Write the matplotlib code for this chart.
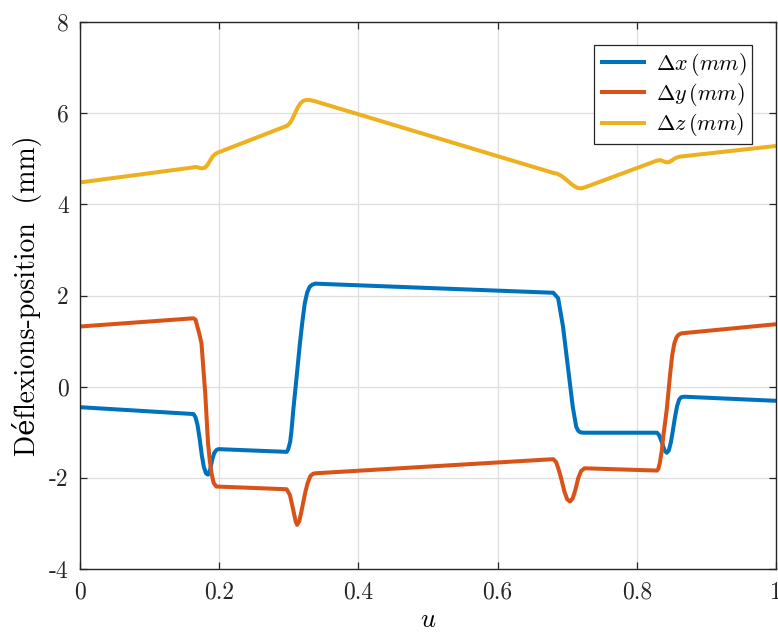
import matplotlib
matplotlib.use("Agg")
import matplotlib.pyplot as plt

# deflections, one set of knots per series
u_x = [0.000, 0.163, 0.166, 0.169, 0.172, 0.175, 0.178, 0.181, 0.184, 0.187, 0.190, 0.193, 0.196, 0.199,
       0.297, 0.299, 0.302, 0.304, 0.3065, 0.3113, 0.316, 0.3195, 0.323, 0.3265, 0.330, 0.334, 0.338,
       0.680, 0.687, 0.694, 0.701, 0.708, 0.713, 0.716, 0.719, 0.723,
       0.829, 0.832, 0.836, 0.840, 0.843, 0.846, 0.849, 0.852, 0.855, 0.858, 0.861, 0.864, 0.868, 1.000]
dx = [-0.45, -0.60, -0.67, -0.85, -1.15, -1.50, -1.76, -1.90, -1.93, -1.82, -1.60, -1.45, -1.39, -1.37,
      -1.43, -1.38, -1.21, -0.95, -0.51, 0.22, 0.95, 1.42, 1.83, 2.07, 2.19, 2.24, 2.26,
      2.06, 1.94, 1.32, 0.44, -0.44, -0.88, -0.97, -1.00, -1.01,
      -1.01, -1.06, -1.22, -1.40, -1.45, -1.40, -1.22, -0.95, -0.66, -0.42, -0.28, -0.23, -0.22, -0.31]

u_y = [0.000, 0.163, 0.166, 0.1686, 0.1716, 0.1746, 0.177, 0.180, 0.182, 0.184, 0.1865, 0.189, 0.192, 0.196,
       0.297, 0.3017, 0.3065, 0.310, 0.312, 0.315, 0.318, 0.321, 0.324, 0.327, 0.331, 0.335, 0.338,
       0.680, 0.684, 0.688, 0.692, 0.696, 0.700, 0.704, 0.708, 0.712, 0.716, 0.720, 0.725,
       0.829, 0.831, 0.833, 0.836, 0.838, 0.843, 0.848, 0.851, 0.854, 0.857, 0.860, 0.864, 1.000]
dy = [1.32, 1.50, 1.47, 1.32, 1.15, 0.95, 0.45, -0.15, -0.70, -1.24, -1.62, -1.90, -2.11, -2.19,
      -2.25, -2.38, -2.71, -2.96, -3.03, -2.95, -2.75, -2.52, -2.30, -2.12, -1.96, -1.91, -1.90,
      -1.59, -1.65, -1.83, -2.05, -2.30, -2.47, -2.52, -2.45, -2.25, -2.00, -1.85, -1.79,
      -1.84, -1.80, -1.68, -1.40, -1.10, -0.51, 0.29, 0.70, 0.95, 1.08, 1.14, 1.17, 1.37]

u_z = [0.000, 0.163, 0.167, 0.171, 0.175, 0.179, 0.183, 0.187, 0.191, 0.195, 0.199,
       0.297, 0.301, 0.305, 0.309, 0.313, 0.317, 0.321, 0.325, 0.330, 0.338,
       0.680, 0.686, 0.692, 0.698, 0.704, 0.710, 0.715, 0.720, 0.725,
       0.829, 0.834, 0.839, 0.843, 0.847, 0.851, 0.855, 0.860, 0.864, 1.000]
dz = [4.48, 4.81, 4.82, 4.80, 4.79, 4.80, 4.86, 4.96, 5.06, 5.11, 5.14,
      5.72, 5.77, 5.87, 6.00, 6.13, 6.22, 6.27, 6.29, 6.29, 6.26,
      4.69, 4.67, 4.62, 4.55, 4.47, 4.40, 4.36, 4.35, 4.37,
      4.96, 4.97, 4.94, 4.92, 4.93, 4.97, 5.01, 5.04, 5.05, 5.28]

labels = [r"$\Delta x\,(mm)$", r"$\Delta y\,(mm)$", r"$\Delta z\,(mm)$"]
colors = ["#0072BD", "#D95319", "#EDB120"]

x_ticks = [0, 0.2, 0.4, 0.6, 0.8, 1.0]
x_ticklabels = ["0", "0.2", "0.4", "0.6", "0.8", "1"]
y_ticks = [-4, -2, 0, 2, 4, 6, 8]
y_ticklabels = ["-4", "-2", "0", "2", "4", "6", "8"]

plt.rcParams["font.family"] = ["cmr10", "DejaVu Serif"]
plt.rcParams["mathtext.fontset"] = "cm"
plt.rcParams["axes.unicode_minus"] = False

fig = plt.figure(figsize=(7.78, 6.39), dpi=100)
ax = fig.add_axes([0.1028, 0.1095, 0.8946, 0.8561])

for uu, vals, lab, col in zip([u_x, u_y, u_z], [dx, dy, dz], labels, colors):
    ax.plot(uu, vals, color=col, linewidth=2.9, label=lab,
            solid_joinstyle="round", solid_capstyle="butt")

ax.set_xlim(0, 1)
ax.set_ylim(-4, 8)
ax.set_xticks(x_ticks)
ax.set_xticklabels(x_ticklabels)
ax.set_yticks(y_ticks)
ax.set_yticklabels(y_ticklabels)

ax.grid(True, color="#dedede", linewidth=0.9)
ax.set_axisbelow(True)
for s in ax.spines.values():
    s.set_color("#262626")
    s.set_linewidth(1.0)
ax.tick_params(direction="in", top=True, right=True, length=5, width=0.9,
               color="#262626", labelsize=17, labelcolor="#262626")
ax.tick_params(axis="y", pad=8)
ax.tick_params(axis="x", pad=9)

ax.set_xlabel(r"$u$", fontsize=19, labelpad=3)
ax.set_ylabel("Déflexions-position  (mm)", fontsize=20, labelpad=5)

leg = ax.legend(loc="upper right", bbox_to_anchor=(0.982, 0.978), fontsize=16,
                fancybox=False, framealpha=1, edgecolor="#262626",
                handlelength=2.1, borderpad=0.25, labelspacing=0.15,
                handletextpad=0.45)
leg.get_frame().set_linewidth(0.9)

fig.savefig("out.png", dpi=100)
